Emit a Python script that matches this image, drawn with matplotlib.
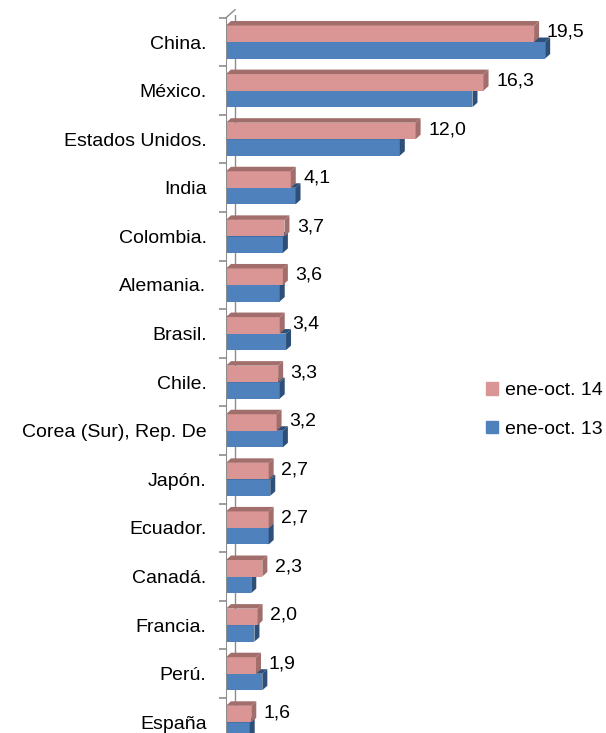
import numpy as np
import matplotlib.pyplot as plt
from matplotlib.patches import Polygon, Patch

plt.rcParams['font.family'] = ['Liberation Sans', 'DejaVu Sans']

# Datos
paises = ['China.', 'México.', 'Estados Unidos.', 'India', 'Colombia.', 'Alemania.',
          'Brasil.', 'Chile.', 'Corea (Sur), Rep. De', 'Japón.', 'Ecuador.', 'Canadá.',
          'Francia.', 'Perú.', 'España']
v14 = [19.5, 16.3, 12.0, 4.1, 3.7, 3.6, 3.4, 3.3, 3.2, 2.7, 2.7, 2.3, 2.0, 1.9, 1.6]
v13 = [20.2, 15.6, 11.0, 4.4, 3.6, 3.4, 3.8, 3.4, 3.6, 2.8, 2.7, 1.6, 1.8, 2.3, 1.5]
series = ['ene-oct. 14', 'ene-oct. 13']

c14, c14_dark = '#D99694', '#A26E6C'
c13, c13_dark = '#4F81BD', '#2E4F78'
wall = '#8C8C8C'
fs = 14

W, H = 606, 733
fig = plt.figure(figsize=(W / 100, H / 100), dpi=100)
ax = fig.add_axes([226 / W, 0, 1 - 226 / W, 1 - 15 / H])

xmax = (W - 226) / 15.8
ax.set_xlim(0, xmax)
ax.set_ylim(14.22, -0.556)

# pixel -> data
px_x = xmax / (W - 226)
px_y = (14.22 + 0.556) / (H - 15)
dx, dy = 5 * px_x, 4.5 * px_y

y = np.arange(len(paises))
h = 0.34


def bar3d(vals, ypos, face, dark, z):
    ax.barh(ypos, vals, height=h, color=face, edgecolor='none', zorder=z)
    for v, yc in zip(vals, ypos):
        top, bot = yc - h / 2, yc + h / 2
        ax.add_patch(Polygon([(0, top), (v, top), (v + dx, top - dy), (dx, top - dy)],
                             closed=True, color=dark, lw=0, zorder=z))
        ax.add_patch(Polygon([(v, top), (v + dx, top - dy), (v + dx, bot - dy), (v, bot)],
                             closed=True, color=dark, lw=0, zorder=z))


bar3d(v13, y + h / 2, c13, c13_dark, 3)
bar3d(v14, y - h / 2, c14, c14_dark, 4)

for v, yc in zip(v14, y - h / 2):
    ax.annotate(f'{v:.1f}'.replace('.', ','), (v, yc), xytext=(9, 1),
                textcoords='offset points', va='center', ha='left', fontsize=fs)

# pared izquierda
wx, wy = 9 * px_x, 8 * px_y
ax.plot([wx, wx], [-0.5 - wy, 14.22], color=wall, lw=1, zorder=1)
ax.plot([0, wx], [-0.5, -0.5 - wy], color=wall, lw=1, zorder=1, clip_on=False)
ax.plot([0, 0], [-0.5, 14.22], color=wall, lw=1.5, zorder=5)

for s in ax.spines.values():
    s.set_visible(False)
ax.set_xticks([])
ax.set_yticks(y)
ax.set_yticklabels(paises, fontsize=fs)
ax.tick_params(axis='y', which='major', length=0, pad=14)
ax.set_yticks(np.arange(-0.5, 14.5, 1), minor=True)
ax.tick_params(axis='y', which='minor', length=5, color=wall, width=1.2)

handles = [Patch(color=c14), Patch(color=c13)]
fig.legend(handles, series, loc='center left', bbox_to_anchor=(486 / W, 1 - 410 / H),
           frameon=False, fontsize=fs, handlelength=0.6, handleheight=0.6,
           handletextpad=0.4, labelspacing=1.1, borderpad=0, borderaxespad=0)

fig.savefig('out.png', dpi=100)
